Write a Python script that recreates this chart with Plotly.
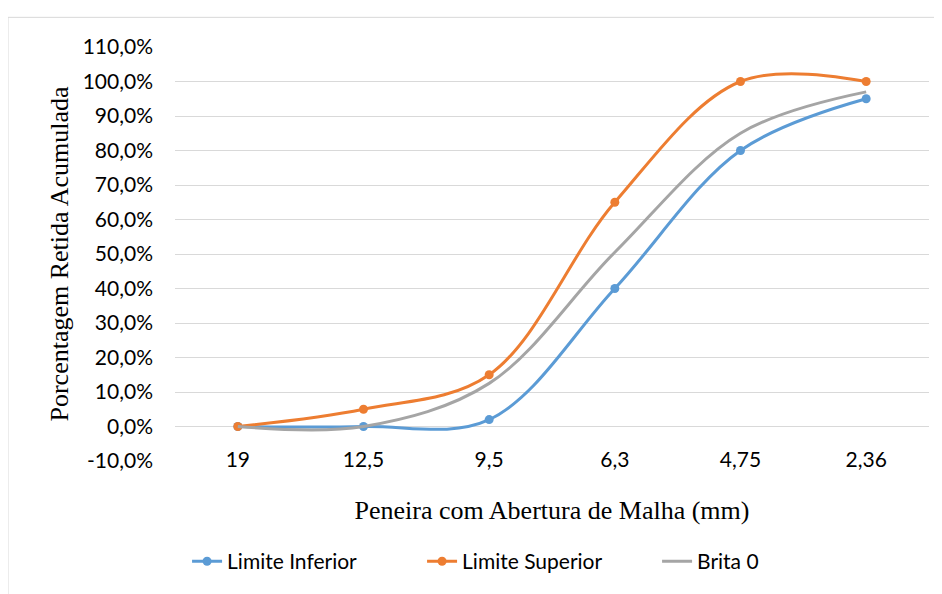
import plotly.graph_objects as go

categories = ["19", "12,5", "9,5", "6,3", "4,75", "2,36"]
limite_inferior = [0.0, 0.0, 0.02, 0.40, 0.80, 0.95]
limite_superior = [0.0, 0.05, 0.15, 0.65, 1.00, 1.00]
brita_0 = [0.0, 0.0, 0.125, 0.505, 0.85, 0.97]
y_ticks = [-0.1, 0.0, 0.1, 0.2, 0.3, 0.4, 0.5, 0.6, 0.7, 0.8, 0.9, 1.0, 1.1]
y_tick_labels = ["-10,0%", "0,0%", "10,0%", "20,0%", "30,0%", "40,0%", "50,0%",
                 "60,0%", "70,0%", "80,0%", "90,0%", "100,0%", "110,0%"]

BLUE = "#5B9BD5"
ORANGE = "#ED7D31"
GRAY = "#A5A5A5"

fig = go.Figure()
fig.add_trace(go.Scatter(x=categories, y=limite_inferior, name="Limite Inferior",
                         mode="lines+markers", line=dict(color=BLUE, width=3, shape="spline", smoothing=1),
                         marker=dict(size=9, color=BLUE)))
fig.add_trace(go.Scatter(x=categories, y=limite_superior, name="Limite Superior",
                         mode="lines+markers", line=dict(color=ORANGE, width=3, shape="spline", smoothing=1),
                         marker=dict(size=9, color=ORANGE)))
fig.add_trace(go.Scatter(x=categories, y=brita_0, name="Brita 0",
                         mode="lines", line=dict(color=GRAY, width=3, shape="spline", smoothing=1)))

tick_font = dict(family="Lato, Open Sans, sans-serif", size=21, color="#000000")
title_font = dict(family="Liberation Serif, Times New Roman, serif", size=26, color="#000000")

fig.update_layout(
    width=934, height=586,
    margin=dict(l=167, r=13, t=39, b=128),
    paper_bgcolor="white", plot_bgcolor="white",
    xaxis=dict(type="category", range=[-0.5, 5.5], showgrid=False, showline=False,
               zeroline=False, ticks="", tickfont=tick_font, ticklabelstandoff=-16,
               title=dict(text="Peneira com Abertura de Malha (mm)", font=title_font, standoff=30)),
    yaxis=dict(range=[-0.1, 1.1], tickvals=y_ticks, ticktext=y_tick_labels, showgrid=True,
               gridcolor="#D9D9D9", gridwidth=1, zeroline=True, zerolinecolor="#D9D9D9",
               zerolinewidth=1, showline=False, ticks="", tickfont=tick_font,
               ticklabelstandoff=21,
               title=dict(text="Porcentagem Retida Acumulada", font=title_font, standoff=6)),
    legend=dict(orientation="h", x=0.016, xanchor="left", y=-0.243, yanchor="middle",
                font=tick_font, traceorder="normal", entrywidth=190, entrywidthmode="pixels"),
    shapes=[dict(type="rect", xref="paper", yref="paper", x0=-0.2215, x1=1.0133,
                 y0=-0.35, y1=1.0716, line=dict(color="#D9D9D9", width=1), layer="below")],
)

fig.write_html("out.html")
